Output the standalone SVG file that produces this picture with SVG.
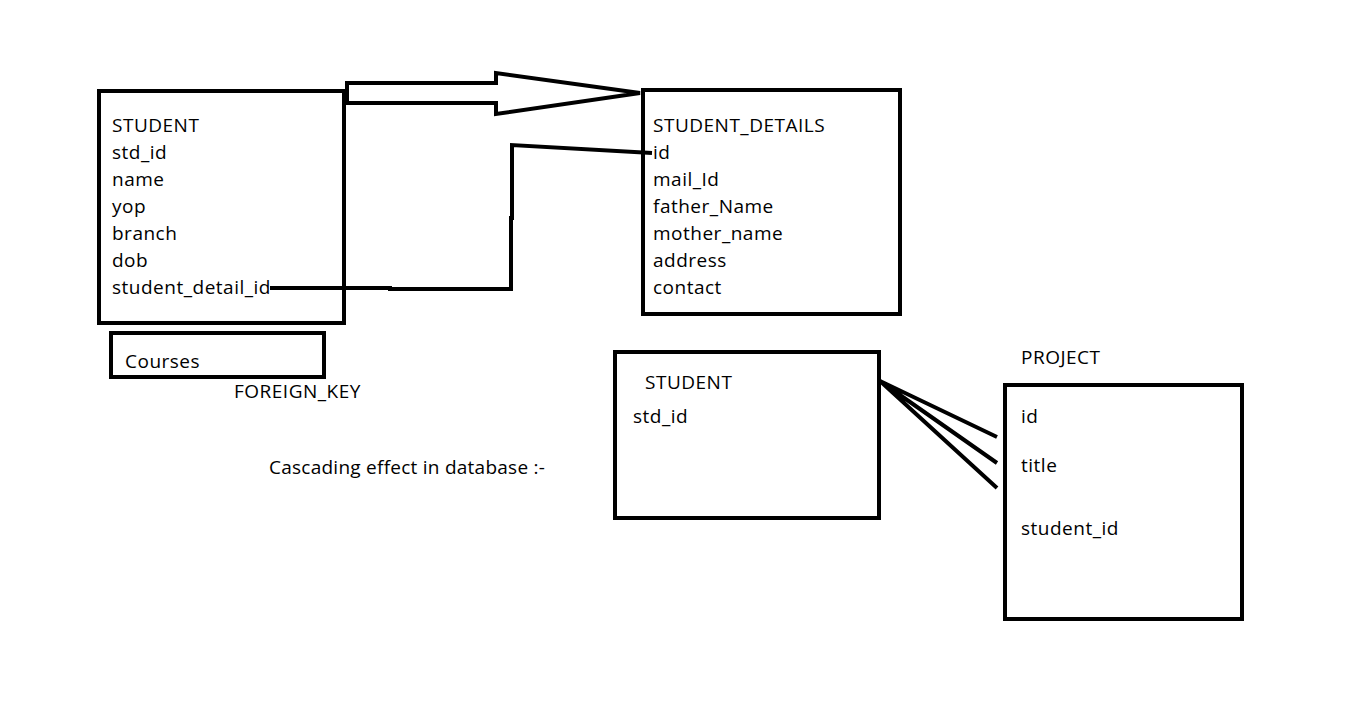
<svg xmlns="http://www.w3.org/2000/svg" width="1366" height="726" viewBox="0 0 1366 726">
<style>
.box{fill:none;stroke:#000;stroke-width:4}
.ln{fill:none;stroke:#000;stroke-width:4;stroke-linejoin:miter}
text{font-family:"Open Sans","Liberation Sans",sans-serif;font-size:19px;fill:#000;letter-spacing:0.5px}
.tight{letter-spacing:0.25px}
</style>
<rect width="1366" height="726" fill="#fff"/>
<g id="student">
<rect class="box" x="99" y="91" width="245" height="232"/>
<text x="112" y="132">STUDENT</text>
<text x="112" y="159">std_id</text>
<text x="112" y="186">name</text>
<text x="112" y="213">yop</text>
<text x="112" y="240">branch</text>
<text x="112" y="267">dob</text>
<text x="112" y="294">student_detail_id</text>
</g>
<g id="courses">
<rect class="box" x="111" y="333" width="213" height="44"/>
<text x="125" y="368">Courses</text>
</g>
<g id="foreign-key-label"><text x="234" y="398">FOREIGN_KEY</text></g>
<g id="student-details">
<rect class="box" x="643" y="90" width="257" height="224"/>
<text x="653" y="132">STUDENT_DETAILS</text>
<text x="653" y="159">id</text>
<text x="653" y="186">mail_Id</text>
<text x="653" y="213">father_Name</text>
<text x="653" y="240">mother_name</text>
<text x="653" y="267">address</text>
<text x="653" y="294">contact</text>
</g>
<g id="cascading-label"><text class="tight" x="269" y="474">Cascading effect in database :-</text></g>
<g id="student2">
<rect class="box" x="615" y="352" width="264" height="166"/>
<text x="645" y="389">STUDENT</text>
<text x="633" y="423">std_id</text>
</g>
<g id="project">
<text x="1021" y="364">PROJECT</text>
<rect class="box" x="1005" y="385" width="237" height="234"/>
<text x="1021" y="423">id</text>
<text x="1021" y="472">title</text>
<text x="1021" y="535">student_id</text>
</g>
<g id="connectors">
<path class="ln" d="M347,103 L347,83 L496,83 L496,73 L640,93 L496,114 L496,103 Z"/>
<path class="ln" d="M270,288 L390,288 L390,289 L511,289 L511,218 L512,218 L512,145 L652,153"/>
<path class="ln" d="M880,381 L997,437 M880,381 L997,463 M880,381 L997,488"/>
</g>
</svg>
